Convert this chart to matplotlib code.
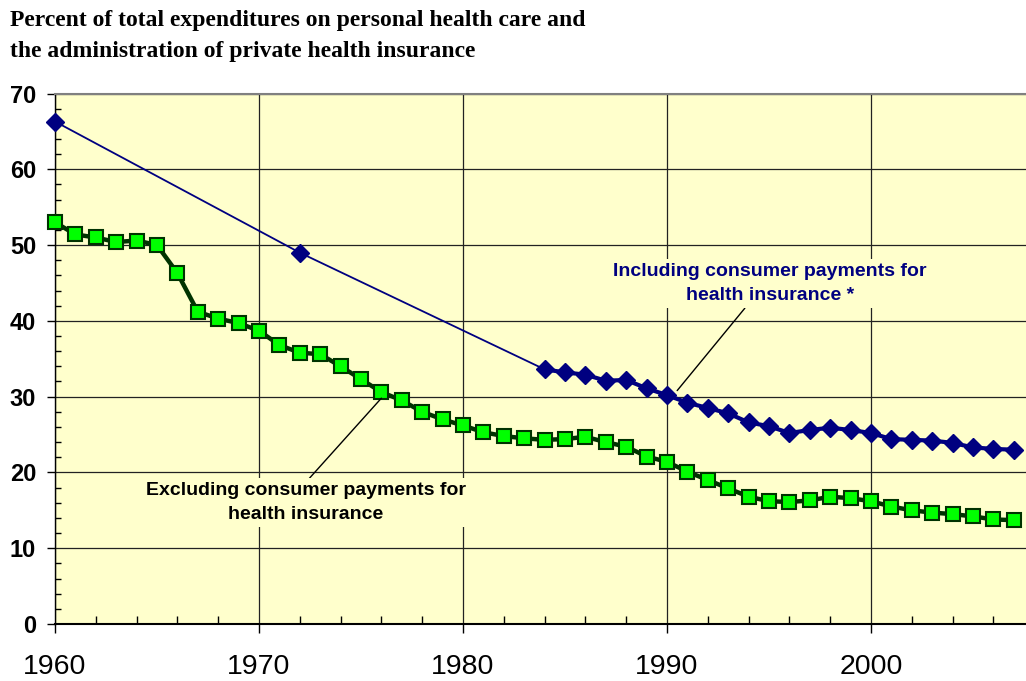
import matplotlib.pyplot as plt
from matplotlib.ticker import MultipleLocator

# percent of total expenditures, excluding consumer payments for health insurance
years_excl = list(range(1960, 2008))
pct_excl = [53.0, 51.4, 51.0, 50.4, 50.6, 50.0, 46.3, 41.2, 40.3, 39.7,
            38.7, 36.8, 35.8, 35.6, 34.0, 32.3, 30.6, 29.5, 28.0, 27.0,
            26.2, 25.3, 24.8, 24.5, 24.3, 24.4, 24.7, 24.0, 23.4, 22.1,
            21.4, 20.1, 19.0, 17.9, 16.8, 16.2, 16.1, 16.3, 16.8, 16.6,
            16.2, 15.5, 15.0, 14.7, 14.5, 14.2, 13.8, 13.7]

# including consumer payments (only 1960, 1972 and 1984 onward)
years_incl = [1960, 1972] + list(range(1984, 2008))
pct_incl = [66.3, 49.0,
            33.6, 33.2, 32.9, 32.1, 32.2, 31.1, 30.2, 29.2, 28.5, 27.8,
            26.6, 26.1, 25.2, 25.6, 25.9, 25.6, 25.2, 24.4, 24.3, 24.2,
            23.9, 23.3, 23.1, 23.0]

title = ("Percent of total expenditures on personal health care and\n"
         "the administration of private health insurance")
label_excl = "Excluding consumer payments for\nhealth insurance"
label_incl = "Including consumer payments for\nhealth insurance *"

bg = "#FFFFCC"
navy = "#000080"
dkgreen = "#003300"

fig = plt.figure(figsize=(10.26, 6.81), dpi=100)
ax = fig.add_axes([0.0536, 0.0837, 0.9464, 0.7790])
ax.set_facecolor(bg)

# blue series: thin connector everywhere, thick line over the annual part
ax.plot(years_incl, pct_incl, color=navy, lw=1.3, zorder=3)
ax.plot(years_incl[2:], pct_incl[2:], color=navy, lw=3, marker="D",
        ms=9, mfc=navy, mec=navy, zorder=4, clip_on=False)
ax.plot(years_incl[:2], pct_incl[:2], ls="none", marker="D",
        ms=9, mfc=navy, mec=navy, zorder=4, clip_on=False)

ax.plot(years_excl, pct_excl, color=dkgreen, lw=3.2, marker="s", ms=10,
        mfc="#00FF00", mec=dkgreen, mew=1.5, zorder=4, clip_on=False)

ax.set_xlim(1960, 2007.6)
ax.set_ylim(0, 70)
ax.xaxis.set_major_locator(MultipleLocator(10))
ax.xaxis.set_minor_locator(MultipleLocator(2))
ax.yaxis.set_major_locator(MultipleLocator(10))
ax.yaxis.set_minor_locator(MultipleLocator(2))
ax.grid(which="major", color="#222222", lw=0.9, zorder=1)
ax.set_axisbelow(True)

ax.tick_params(axis="x", which="major", direction="out", length=6.5, width=1,
               pad=15, labelsize=20.5)
ax.tick_params(axis="x", which="minor", direction="in", length=5.5, width=1)
ax.tick_params(axis="y", which="major", direction="out", length=5.5, width=1,
               pad=8, labelsize=17)
ax.tick_params(axis="y", which="minor", direction="in", length=4, width=1)
for lbl in ax.get_yticklabels():
    lbl.set_fontweight("bold")
for lbl in ax.get_xticklabels() + ax.get_yticklabels():
    lbl.set_fontfamily(["Liberation Sans", "DejaVu Sans"])

ax.spines["right"].set_visible(False)
ax.spines["top"].set_color("#808080")
ax.spines["top"].set_linewidth(1.5)
ax.spines["left"].set_linewidth(1)
ax.spines["bottom"].set_linewidth(1.5)

ax.annotate(label_excl, xy=(1976, 29.8), xytext=(1972.3, 16.0),
            ha="center", va="center", multialignment="center",
            fontsize=14, fontweight="bold", color="black", linespacing=1.55,
            family=["Liberation Sans", "DejaVu Sans"],
            bbox=dict(boxstyle="square,pad=0.2", fc=bg, ec="none"),
            arrowprops=dict(arrowstyle="-", color="black", lw=1,
                            relpos=(0.5, 1.0), shrinkA=0, shrinkB=0),
            zorder=5)
ax.annotate(label_incl, xy=(1990.5, 30.8), xytext=(1995.05, 44.9),
            ha="center", va="center", multialignment="center",
            fontsize=14, fontweight="bold", color=navy, linespacing=1.55,
            family=["Liberation Sans", "DejaVu Sans"],
            bbox=dict(boxstyle="square,pad=0.2", fc=bg, ec="none"),
            arrowprops=dict(arrowstyle="-", color="black", lw=1,
                            relpos=(0.43, 0.0), shrinkA=0, shrinkB=0),
            zorder=5)

fig.text(0.0097, 0.985, title, ha="left", va="top", fontsize=17,
         fontweight="bold", family=["Liberation Serif", "DejaVu Serif"],
         linespacing=1.6)

fig.savefig("out.png", dpi=100, facecolor="white")
